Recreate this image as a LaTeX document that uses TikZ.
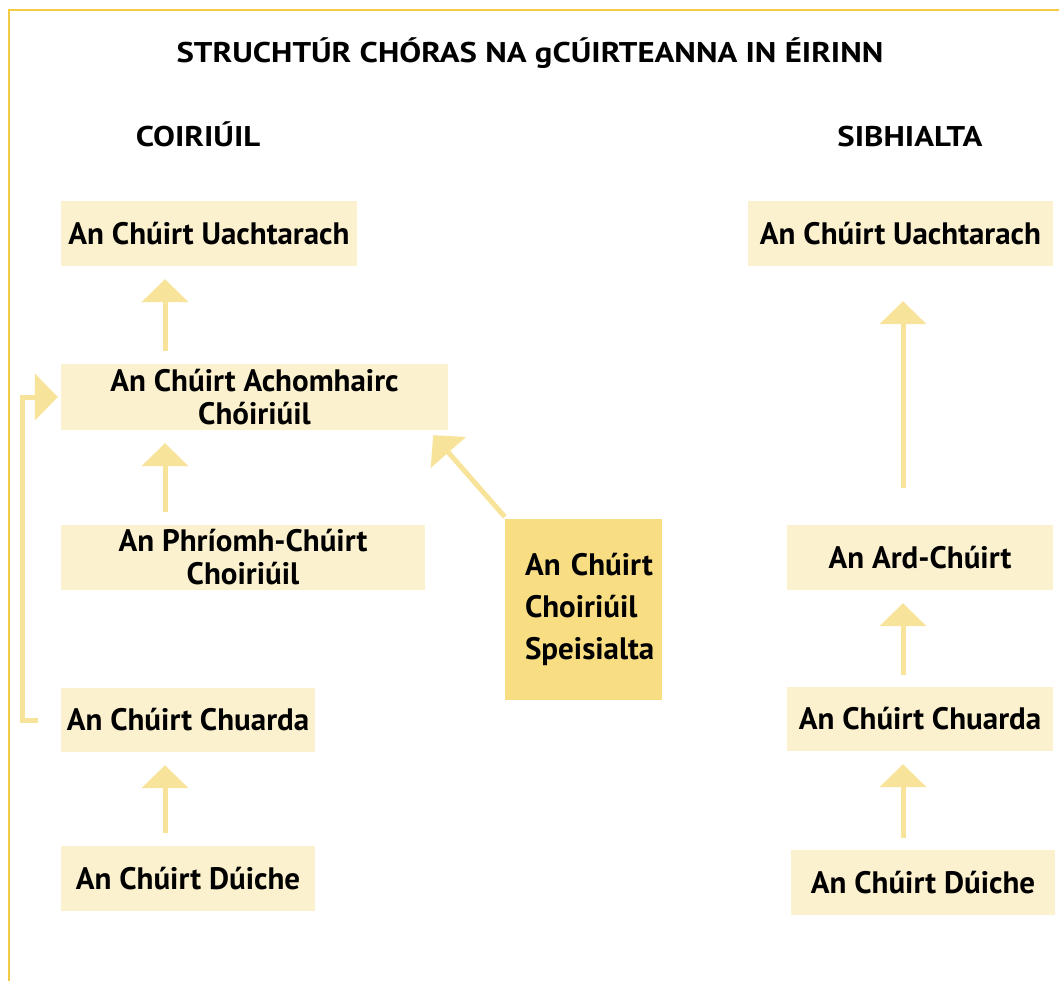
\documentclass[tikz,border=0pt]{standalone}
\usepackage{fontspec}
\setmainfont{PT Sans}
\newfontfamily\headfont[FakeStretch=1.15]{PT Sans}
\usetikzlibrary{arrows.meta}
\definecolor{courtfill}{HTML}{FCF1CF}
\definecolor{specialfill}{HTML}{F8DD82}
\definecolor{arrowfill}{HTML}{F8E39A}
\definecolor{framecolor}{HTML}{F4CB45}
\tikzset{
	courtstyle/.style={rectangle,fill=courtfill,inner sep=0pt,align=center,font=\bfseries\fontsize{31}{33}\selectfont},
	specialstyle/.style={rectangle,fill=specialfill,inner xsep=20pt,inner ysep=0pt,align=left,font=\bfseries\fontsize{31}{42}\selectfont},
	headstyle/.style={anchor=base,font=\headfont\bfseries\fontsize{28.5}{30}\selectfont},
	uparrow/.style={draw=arrowfill,line width=5pt,-{Triangle[width=46pt,length=23pt]}}
}
\begin{document}
\begin{tikzpicture}[x=1pt,y=-1pt]
	\useasboundingbox (0,0) rectangle (1059,981);
	\draw[framecolor,line width=1.5pt] (9,981) -- (9,10) -- (1059,10);
	\node[headstyle] (title) at (530,63) {STRUCHTÚR CHÓRAS NA gCÚIRTEANNA IN ÉIRINN};
	\node[headstyle] (crimhead) at (198,147) {COIRIÚIL};
	\node[headstyle] (civhead) at (910,147) {SIBHIALTA};
	\node[courtstyle,minimum width=296pt,minimum height=65pt] (crimsup) at (209,233.5) {An Chúirt Uachtarach};
	\node[courtstyle,minimum width=387pt,minimum height=66pt] (crimapp) at (254.5,397) {An Chúirt Achomhairc\\Chóiriúil};
	\node[courtstyle,minimum width=364pt,minimum height=65pt] (crimcent) at (243,557.5) {An Phríomh-Chúirt\\Choiriúil};
	\node[courtstyle,minimum width=254pt,minimum height=64pt] (crimcirc) at (188,720) {An Chúirt Chuarda};
	\node[courtstyle,minimum width=254pt,minimum height=65pt] (crimdist) at (188,878.5) {An Chúirt Dúiche};
	\node[specialstyle,text width=117pt,minimum height=181pt] (special) at (583.5,609) {\mbox{An Chúirt}\\Choiriúil\\Speisialta};
	\node[courtstyle,minimum width=305pt,minimum height=65pt] (civsup) at (900.5,233.5) {An Chúirt Uachtarach};
	\node[courtstyle,minimum width=266pt,minimum height=65pt] (civhigh) at (920,557.5) {An Ard-Chúirt};
	\node[courtstyle,minimum width=266pt,minimum height=64pt] (civcirc) at (920,719) {An Chúirt Chuarda};
	\node[courtstyle,minimum width=264pt,minimum height=65pt] (civdist) at (923,882.5) {An Chúirt Dúiche};
	\coordinate (crimaxis) at (165,0);
	\coordinate (civaxis) at (903,0);
	\coordinate (bend) at (22,0);
	\foreach \a/\b in {crimdist/crimcirc,crimcent/crimapp,crimapp/crimsup}
	\draw[uparrow,shorten <=13pt,shorten >=13pt] (\a.north -| crimaxis) -- (\b.south -| crimaxis);
	\foreach \a/\b in {civdist/civcirc,civcirc/civhigh}
	\draw[uparrow,shorten <=12pt,shorten >=13pt] (\a.north -| civaxis) -- (\b.south -| civaxis);
	\draw[uparrow,shorten <=37pt,shorten >=35pt] (civhigh.north -| civaxis) -- (civsup.south -| civaxis);
	\draw[uparrow,shorten <=23pt,shorten >=3pt] (crimcirc.west) -- (crimcirc.west -| bend) -- (crimapp.west -| bend) -- (crimapp.west);
	\draw[uparrow] ([yshift=1.5pt]special.north west) -- ([shift={(-15pt,-5pt)}]crimapp.south east);
\end{tikzpicture}
\end{document}
